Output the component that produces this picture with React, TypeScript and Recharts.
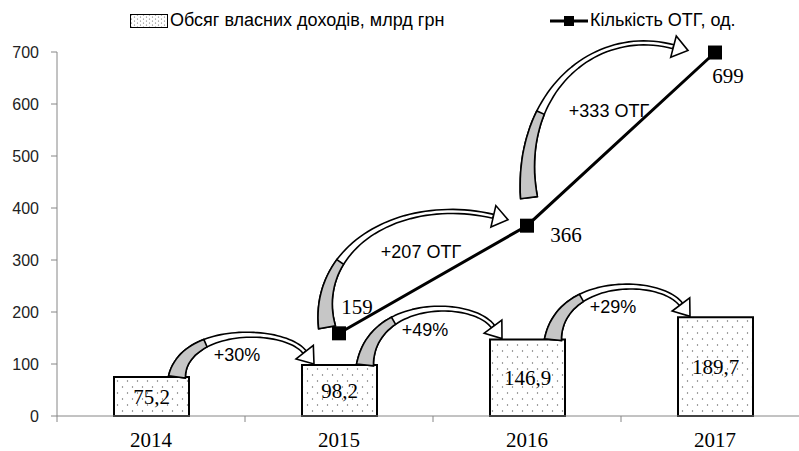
import React from "react";
import { ComposedChart, Bar, Line, XAxis, YAxis, LabelList } from "recharts";

const years = ["2014", "2015", "2016", "2017"];
const incomeValues = [75.2, 98.2, 146.9, 189.7];
const otgValues: (number | null)[] = [null, 159, 366, 699];
const incomeGrowth = ["+30%", "+49%", "+29%"];
// growth label for the arrow that starts at each point
const otgGrowth = ["", "+207 ОТГ", "+333 ОТГ"];
const yTicks = [0, 100, 200, 300, 400, 500, 600, 700];

const data = years.map((year, i) => ({
  year,
  income: incomeValues[i],
  otg: otgValues[i],
}));

// layout tweaks (pixel offsets relative to the plotted points)
const otgLabelOffsets = [
  [0, 0],
  [18, -26],
  [39, 9],
  [13, 23],
];
const otgArrowTail = [
  [0, 0],
  [-12, -6],
  [2, -28],
];
const otgArrowTip = [
  [0, 0],
  [-19, -6],
  [-27, -2],
];

const SANS = "'Liberation Sans', Arial, sans-serif";
const SERIF = "'Liberation Serif', 'Times New Roman', serif";
const AXIS_GRAY = "#868686";

type Pt = { x: number; y: number };

const bez = (a: Pt, b: Pt, c: Pt, d: Pt, t: number): Pt => {
  const u = 1 - t;
  return {
    x: u * u * u * a.x + 3 * u * u * t * b.x + 3 * u * t * t * c.x + t * t * t * d.x,
    y: u * u * u * a.y + 3 * u * u * t * b.y + 3 * u * t * t * c.y + t * t * t * d.y,
  };
};
const bezD = (a: Pt, b: Pt, c: Pt, d: Pt, t: number): Pt => {
  const u = 1 - t;
  return {
    x: 3 * u * u * (b.x - a.x) + 6 * u * t * (c.x - b.x) + 3 * t * t * (d.x - c.x),
    y: 3 * u * u * (b.y - a.y) + 6 * u * t * (c.y - b.y) + 3 * t * t * (d.y - c.y),
  };
};

function CurvedArrow({ tail, c1, c2, tip }: { tail: Pt; c1: Pt; c2: Pt; tip: Pt }) {
  const L = 15;
  const hw = 11;
  const w0 = 17;
  const w1 = 4;
  let dx = tip.x - c2.x;
  let dy = tip.y - c2.y;
  const len = Math.hypot(dx, dy) || 1;
  dx /= len;
  dy /= len;
  const base = { x: tip.x - dx * L, y: tip.y - dy * L };
  const N = 48;
  const left: Pt[] = [];
  const right: Pt[] = [];
  for (let i = 0; i <= N; i++) {
    const t = i / N;
    const p = bez(tail, c1, c2, base, t);
    const d = bezD(tail, c1, c2, base, t);
    const dl = Math.hypot(d.x, d.y) || 1;
    const nx = -d.y / dl;
    const ny = d.x / dl;
    const w = w1 + (w0 - w1) * Math.pow(1 - t, 3);
    left.push({ x: p.x + (nx * w) / 2, y: p.y + (ny * w) / 2 });
    right.push({ x: p.x - (nx * w) / 2, y: p.y - (ny * w) / 2 });
  }
  const band = (k: number) => {
    const pts = [...left.slice(0, k + 1), ...right.slice(0, k + 1).reverse()];
    return "M" + pts.map((p) => `${p.x.toFixed(1)},${p.y.toFixed(1)}`).join("L") + "Z";
  };
  const nbx = -dy;
  const nby = dx;
  const head = `M${base.x + nbx * hw},${base.y + nby * hw}L${tip.x},${tip.y}L${base.x - nbx * hw},${
    base.y - nby * hw
  }Z`;
  return (
    <g>
      <path d={band(N)} fill="#fff" stroke="#000" strokeWidth={1.6} strokeLinejoin="round" />
      <path d={band(Math.round(N * 0.32))} fill="#c6c6c6" stroke="#000" strokeWidth={1.6} />
      <path d={head} fill="#fff" stroke="#000" strokeWidth={1.6} />
    </g>
  );
}

const growthText = (x: number, y: number, text: string) => (
  <text x={x} y={y} textAnchor="middle" dominantBaseline="central" fontFamily={SANS} fontSize={18} fill="#000">
    {text}
  </text>
);

const renderIncomeArrow = (props: any) => {
  const { index, points, cx, cy } = props;
  const next = points?.[index + 1];
  if (!next || cy == null || next.y == null) return <g key={`ia-${index}`} />;
  const tail = { x: cx + 26, y: cy };
  const tip = { x: next.x - 25, y: next.y - 1 };
  const peak = Math.min(tail.y, tip.y) - 27;
  const c = (8 * peak - tail.y - tip.y) / 6;
  const dx = tip.x - tail.x;
  return (
    <g key={`ia-${index}`}>
      <CurvedArrow tail={tail} c1={{ x: tail.x + 0.05 * dx, y: c }} c2={{ x: tip.x - 0.22 * dx, y: c }} tip={tip} />
      {growthText((cx + next.x) / 2 - 8, peak + 18, incomeGrowth[index])}
    </g>
  );
};

const renderOtgArrow = (props: any) => {
  const { index, points, cx, cy } = props;
  const next = points?.[index + 1];
  if (!next || cy == null || next.y == null || !otgGrowth[index]) return <g key={`oa-${index}`} />;
  const tail = { x: cx + otgArrowTail[index][0], y: cy + otgArrowTail[index][1] };
  const tip = { x: next.x + otgArrowTip[index][0], y: next.y + otgArrowTip[index][1] };
  const dx = tip.x - tail.x;
  const rise = tail.y - tip.y;
  return (
    <g key={`oa-${index}`}>
      <CurvedArrow
        tail={tail}
        c1={{ x: tail.x - 0.08 * dx, y: tail.y - (0.6 * rise + 15) }}
        c2={{ x: tip.x - 0.6 * dx, y: tip.y - 25 }}
        tip={tip}
      />
      {growthText((cx + next.x) / 2 - 12, (cy + next.y) / 2 - 28, otgGrowth[index])}
    </g>
  );
};

const renderSquare = (props: any) => {
  const { cx, cy, index } = props;
  if (cy == null) return <g key={`sq-${index}`} />;
  return <rect key={`sq-${index}`} x={cx - 7} y={cy - 7} width={14} height={14} fill="#000" />;
};

const renderOtgLabel = (props: any) => {
  const { x, y, value, index } = props;
  if (value == null || y == null) return null;
  const [ox, oy] = otgLabelOffsets[index] || [0, 0];
  return (
    <text
      x={x + ox}
      y={y + oy}
      textAnchor="middle"
      dominantBaseline="central"
      fontFamily={SERIF}
      fontSize={21}
      fill="#000"
    >
      {value}
    </text>
  );
};

const renderYearTick = (props: any) => {
  const { x, y, payload, index } = props;
  const half = payload?.offset || 94;
  return (
    <g>
      {index === 0 && <line x1={x - half} x2={x - half} y1={y} y2={y + 6} stroke={AXIS_GRAY} />}
      <line x1={x + half} x2={x + half} y1={y} y2={y + 6} stroke={AXIS_GRAY} />
      <text x={x} y={y + 24} dominantBaseline="central" textAnchor="middle" fontFamily={SERIF} fontSize={21} fill="#000">
        {payload.value}
      </text>
    </g>
  );
};

function LegendBox() {
  return (
    <div
      style={{
        position: "absolute",
        top: 10,
        left: 0,
        width: 799,
        height: 22,
        fontFamily: SANS,
        fontSize: 18,
        color: "#000",
      }}
    >
      <div style={{ position: "absolute", left: 130, top: 0, display: "flex", alignItems: "center", whiteSpace: "nowrap" }}>
        <svg width={38} height={14} style={{ marginRight: 2 }}>
          <rect x={0.5} y={0.5} width={37} height={13} fill="url(#dotsLegend)" stroke="#000" />
          <defs>
            <pattern id="dotsLegend" width={6} height={4} patternUnits="userSpaceOnUse">
              <rect width={6} height={4} fill="#fff" />
              <circle cx={1.5} cy={1} r={0.6} fill="#666" />
              <circle cx={4.5} cy={3} r={0.6} fill="#666" />
            </pattern>
          </defs>
        </svg>
        <span>Обсяг власних доходів, млрд грн</span>
      </div>
      <div style={{ position: "absolute", left: 550, top: 0, display: "flex", alignItems: "center", whiteSpace: "nowrap" }}>
        <svg width={38} height={14} style={{ marginRight: 2 }}>
          <line x1={0} x2={38} y1={7} y2={7} stroke="#000" strokeWidth={3} />
          <rect x={14} y={2} width={10} height={10} fill="#000" />
        </svg>
        <span>Кількість ОТГ, од.</span>
      </div>
    </div>
  );
}

export default function App() {
  return (
    <div
      style={{
        position: "absolute",
        left: 0,
        top: 0,
        width: 799,
        height: 451,
        overflow: "hidden",
        background: "#fff",
      }}
    >
      <ComposedChart width={820} height={451} data={data} margin={{ top: 52, right: 11, bottom: 0, left: 0 }}>
        <defs>
          <pattern id="dots" width={10} height={12} patternUnits="userSpaceOnUse">
            <rect width={10} height={12} fill="#fff" />
            <circle cx={2.5} cy={3} r={0.7} fill="#666" />
            <circle cx={7.5} cy={9} r={0.7} fill="#666" />
          </pattern>
        </defs>
        <XAxis
          dataKey="year"
          height={35}
          stroke={AXIS_GRAY}
          tickLine={false}
          tickSize={0}
          tickMargin={0}
          tick={renderYearTick}
          interval={0}
        />
        <YAxis
          width={57}
          domain={[0, 700]}
          ticks={yTicks}
          interval={0}
          stroke={AXIS_GRAY}
          tickSize={6}
          tickMargin={12}
          tick={{ fontFamily: SANS, fontSize: 16, fill: "#222" }}
        />
        <Bar
          dataKey="income"
          barSize={75}
          fill="url(#dots)"
          stroke="#000"
          strokeWidth={2}
          isAnimationActive={false}
        >
          <LabelList
            dataKey="income"
            position="center"
            formatter={(v: any) => String(v).replace(".", ",")}
            fontFamily={SERIF}
            fontSize={21}
            fill="#000"
          />
        </Bar>
        <Line
          dataKey="income"
          stroke="none"
          dot={renderIncomeArrow}
          activeDot={false}
          legendType="none"
          isAnimationActive={false}
        />
        <Line
          dataKey="otg"
          stroke="none"
          dot={renderOtgArrow}
          activeDot={false}
          legendType="none"
          isAnimationActive={false}
        />
        <Line
          dataKey="otg"
          stroke="#000"
          strokeWidth={3}
          dot={renderSquare}
          activeDot={false}
          isAnimationActive={false}
        >
          <LabelList dataKey="otg" content={renderOtgLabel} />
        </Line>
      </ComposedChart>
      <LegendBox />
    </div>
  );
}
